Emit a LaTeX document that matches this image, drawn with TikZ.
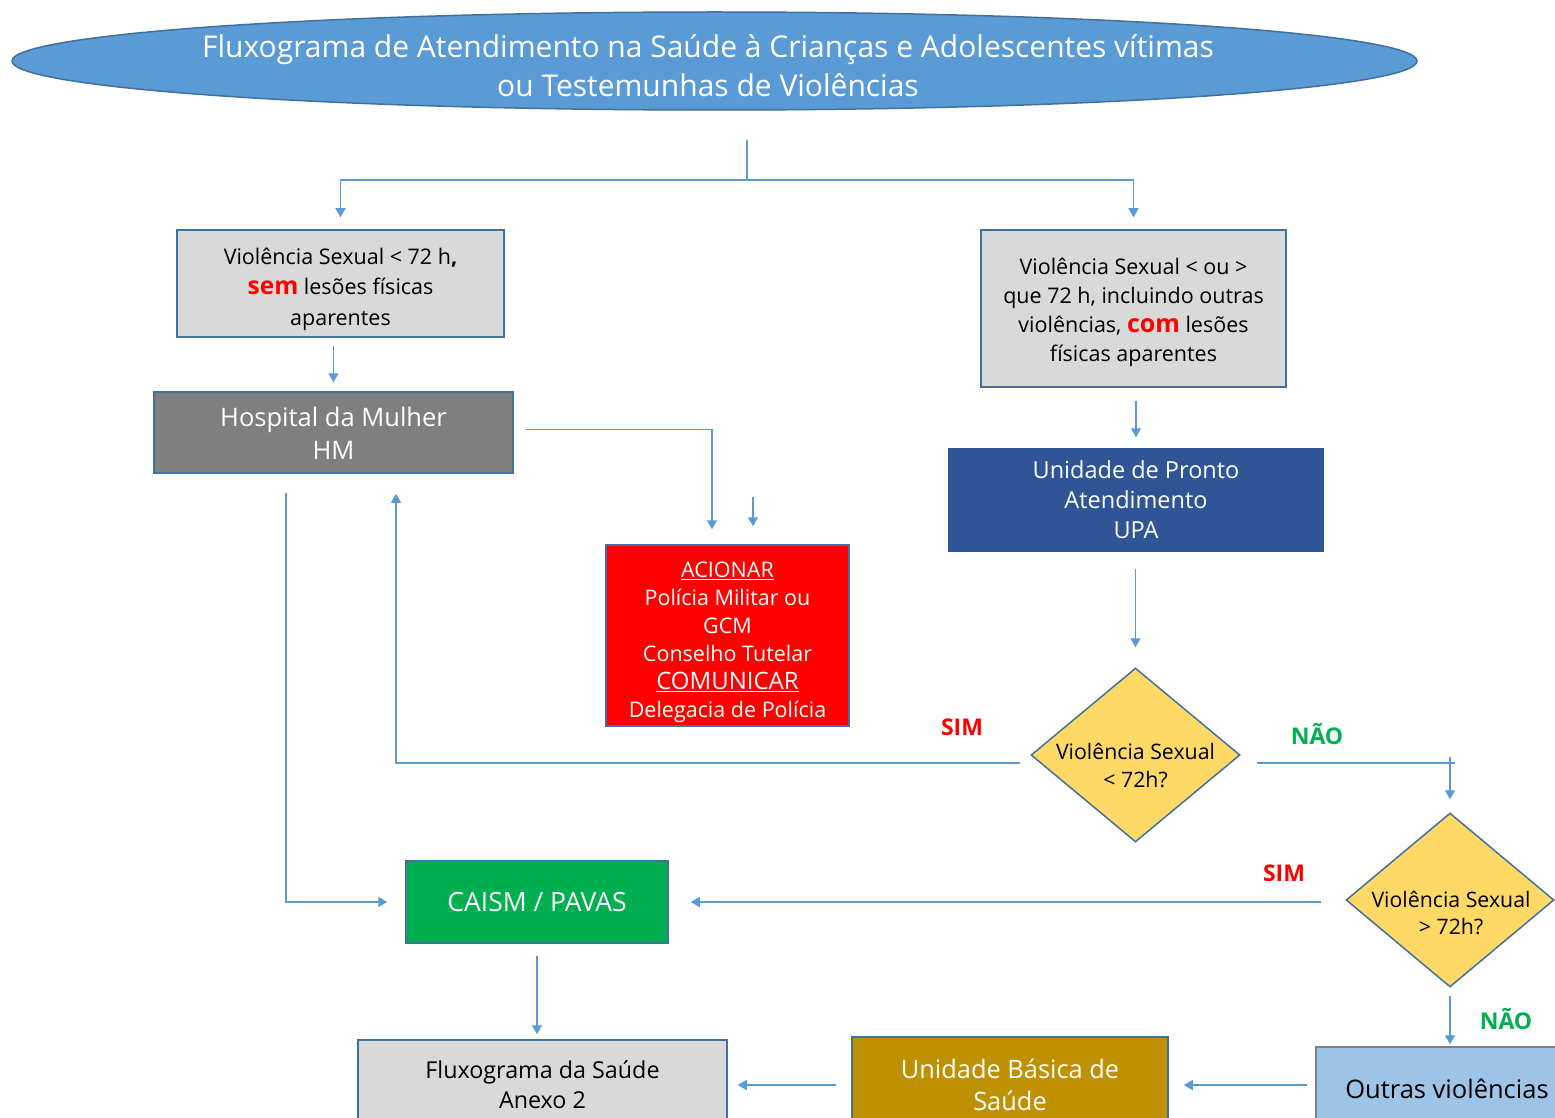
\documentclass[tikz,border=0pt]{standalone}
\usepackage{fontspec}
\setmainfont{Open Sans}
\usetikzlibrary{arrows.meta,shapes.geometric}
\definecolor{arr}{HTML}{5B9BD5}
\definecolor{bord}{HTML}{41719C}
\definecolor{lgray}{HTML}{D9D9D9}
\definecolor{dgray}{HTML}{7F7F7F}
\definecolor{upac}{HTML}{2F5597}
\definecolor{ttl}{HTML}{5B9BD5}
\definecolor{dia}{HTML}{FFD966}
\definecolor{grn}{HTML}{00B050}
\definecolor{ubsc}{HTML}{BF9000}
\definecolor{outr}{HTML}{9DC3E6}
\definecolor{redc}{HTML}{FF0000}
\newcommand{\lowertext}[2]{\raisebox{-#1}[\height][\depth]{\begin{tabular}{@{}c@{}}#2\end{tabular}}}
\begin{document}
\begin{tikzpicture}[x=1pt,y=-1pt,
  box/.style={draw=bord, line width=1.5pt, align=center, inner sep=0pt},
  ln/.style={draw=arr, line width=1.3pt, -{Triangle[width=10pt,length=9pt]}},
  plainln/.style={draw=arr, line width=1.3pt},
  dec/.style={diamond, draw=bord, line width=1.5pt, fill=dia, inner sep=0pt, aspect=1.2},
  dtxt/.style={align=center, inner sep=0pt, font=\fontsize{21.3}{28}\selectfont},
  lab/.style={font=\fontsize{23}{26}\selectfont\bfseries}]
\useasboundingbox (0,0) rectangle (1555,1118);
\clip (0,0) rectangle (1555,1118);

% title
\node[ellipse, draw=bord, line width=1.5pt, fill=ttl, minimum width=1405pt, minimum height=98pt, inner sep=0pt] (title) at (714.5,61) {};
\node[text=white, align=center, inner sep=0pt, font=\fontsize{30}{39}\selectfont] (titletext) at (708,66)
  {Fluxograma de Atendimento na Saúde à Crianças e Adolescentes vítimas\\ou Testemunhas de Violências};

% boxes
\node[box, fill=lgray, minimum width=327pt, minimum height=107pt, font=\fontsize{21.5}{30.5}\selectfont] (box1) at (340.5,283.5)
  {\lowertext{5pt}{Violência Sexual < 72 h\textbf{,}\\\textcolor{redc}{\bfseries\fontsize{24.5}{30.5}\selectfont sem} lesões físicas\\aparentes}};
\node[box, fill=dgray, text=white, minimum width=359pt, minimum height=81pt, font=\fontsize{25.5}{33}\selectfont] (hm) at (333.5,432.5)
  {\lowertext{4pt}{Hospital da Mulher\\HM}};
\node[box, fill=redc, text=white, minimum width=243pt, minimum height=181pt, font=\fontsize{21.5}{28}\selectfont] (red) at (727.5,635.5)
  {\lowertext{6pt}{\underline{ACIONAR}\\Polícia Militar ou\\GCM\\Conselho Tutelar\\{\fontsize{24}{28}\selectfont\underline{COMUNICAR}}\\Delegacia de Polícia}};
\node[box, fill=lgray, minimum width=305pt, minimum height=157pt, font=\fontsize{21.5}{29}\selectfont] (rbox) at (1133.5,308.5)
  {\lowertext{4pt}{Violência Sexual < ou >\\que 72 h, incluindo outras\\violências, \textcolor{redc}{\bfseries\fontsize{25}{29}\selectfont com} lesões\\físicas aparentes}};
\node[box, draw=upac, fill=upac, text=white, minimum width=374pt, minimum height=102pt, font=\fontsize{23.5}{30}\selectfont] (upa) at (1136,500)
  {\lowertext{2pt}{Unidade de Pronto\\Atendimento\\UPA}};
\node[dec, minimum width=209pt, minimum height=174pt] (d1) at (1135.5,755) {};
\node[dtxt] (d1t) at (1135.5,765) {Violência Sexual\\< 72h?};
\node[dec, minimum width=208pt, minimum height=174pt] (d2) at (1450,900) {};
\node[dtxt, font=\fontsize{21.3}{27}\selectfont] (d2t) at (1451,912.5) {Violência Sexual\\> 72h?};
\node[box, fill=grn, text=white, minimum width=262pt, minimum height=82pt, font=\fontsize{26.5}{33}\selectfont] (caism) at (537,902)
  {CAISM / PAVAS};
\node[box, fill=lgray, minimum width=369pt, minimum height=90pt, font=\fontsize{23.3}{30}\selectfont] (fluxo) at (542.5,1085)
  {Fluxograma da Saúde\\Anexo 2};
\node[box, fill=ubsc, text=white, minimum width=316pt, minimum height=96pt, font=\fontsize{25.4}{32}\selectfont] (ubs) at (1010,1085)
  {Unidade Básica de\\Saúde};
\node[box, draw=dgray, fill=outr, minimum width=262pt, minimum height=84pt, font=\fontsize{25.5}{32}\selectfont] (outras) at (1447,1089)
  {Outras violências};

% labels
\node[lab, text=redc] (sim1) at (962,727) {SIM};
\node[lab, text=grn] (nao1) at (1317,734) {NÃO};
\node[lab, text=redc] (sim2) at (1284,873) {SIM};
\node[lab, text=grn] (nao2) at (1506,1019) {NÃO};

% connectors
\coordinate (t0) at (747,140);
\draw[ln] (t0) -- (747,180) -| ([yshift=12pt]box1.north);
\draw[ln] (747,180) -| ([yshift=12pt]rbox.north);
\draw[ln] ([yshift=-8pt]box1.south -| hm.north) -- ([yshift=9pt]hm.north);
\draw[ln] ([xshift=12pt,yshift=3pt]hm.east) -| ([xshift=-15.5pt,yshift=15pt]red.north);
\coordinate (s1) at (753,497);
\draw[ln] (s1) -- ([xshift=25.5pt,yshift=18pt]red.north);
\draw[ln] ([yshift=-13pt]rbox.south -| upa.north) -- ([yshift=11pt]upa.north);
\draw[ln] ([yshift=-17pt]upa.south -| d1.north) -- ([yshift=20pt]d1.north);
\draw[ln] ([xshift=-10pt,yshift=-8pt]d1.west) -| ([xshift=62.5pt,yshift=-20pt]hm.south);
\coordinate (c1) at (1455,763);
\draw[plainln] ([xshift=16pt,yshift=-8pt]d1.east) -- (c1);
\draw[ln] ([yshift=55pt]d2.north) -- ([yshift=13pt]d2.north);
\draw[ln] ([xshift=-24pt,yshift=-2pt]d2.west) -- ([xshift=22pt]caism.east);
\draw[ln] ([xshift=-47.5pt,yshift=-19pt]hm.south) |- ([xshift=-18pt]caism.west);
\draw[ln] ([yshift=-12pt]caism.south) -- ([yshift=5pt]caism.south |- fluxo.north);
\draw[ln] ([yshift=-8pt]d2.south) -- ([yshift=2pt]d2.south |- outras.north);
\draw[ln] ([xshift=-8pt]outras.west |- ubs.east) -- ([xshift=15pt]ubs.east);
\draw[ln] ([xshift=-15pt]ubs.west) -- ([xshift=10pt]ubs.west -| fluxo.east);
\end{tikzpicture}
\end{document}
